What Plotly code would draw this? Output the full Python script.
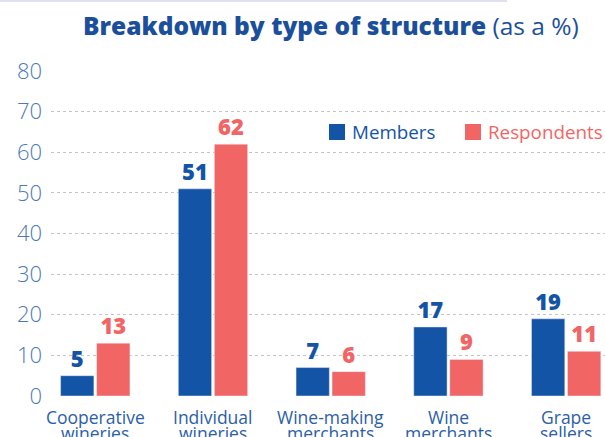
import plotly.graph_objects as go

categories = ["Cooperative<br>wineries", "Individual<br>wineries", "Wine-making<br>merchants",
              "Wine<br>merchants", "Grape<br>sellers"]
members = [5, 51, 7, 17, 19]
respondents = [13, 62, 6, 9, 11]
y_ticks = [0, 10, 20, 30, 40, 50, 60, 70, 80]

BLUE = "#1454a6"
RED = "#f26565"
TICK_BLUE = "#4a7ab8"
LABEL_BLUE = "#2b5ea8"
TITLE_BLUE = "#1b4f9c"
FONT = "Open Sans"

W, H = 605, 437
ML, MR, MT, MB = 51, 0, 71, 41


def px_x(px):
    return (px - ML) / (W - ML - MR)


def px_y(py):
    return (H - MB - py) / (H - MT - MB)


fig = go.Figure()

for name, vals, color in [("Members", members, BLUE), ("Respondents", respondents, RED)]:
    fig.add_trace(go.Bar(
        x=categories, y=vals, name=name, marker_color=color, showlegend=False,
        text=vals, textposition="outside", cliponaxis=False, constraintext="none",
        textfont=dict(family=FONT, size=22, color=color, weight=800),
    ))

# category labels: two tightly spaced lines under each group
annotations = []
for cat in categories:
    for i, line in enumerate(cat.split("<br>")):
        annotations.append(dict(
            x=cat, xref="x", y=0, yref="paper", yanchor="top", yshift=-8 - 16 * i,
            text=line, showarrow=False, borderpad=0,
            font=dict(family=FONT, size=17.5, color=LABEL_BLUE),
        ))

# legend: square swatches with coloured names
shapes = []
for name, color, left in [("Members", BLUE, 329), ("Respondents", RED, 465)]:
    shapes.append(dict(type="rect", xref="paper", yref="paper",
                       x0=px_x(left), x1=px_x(left + 16), y0=px_y(140), y1=px_y(124),
                       fillcolor=color, line=dict(width=0)))
    annotations.append(dict(x=px_x(left + 22), xref="paper", xanchor="left",
                            y=px_y(132), yref="paper", yanchor="middle",
                            text=name, showarrow=False, borderpad=0,
                            font=dict(family=FONT, size=18.8, color=color)))

# thin rule along the top edge
shapes.append(dict(type="line", xref="paper", yref="paper", x0=px_x(0), x1=px_x(507),
                   y0=px_y(1), y1=px_y(1), line=dict(color="#dfe1f0", width=2)))

fig.update_layout(
    width=W, height=H,
    margin=dict(l=ML, r=MR, t=MT, b=MB),
    paper_bgcolor="white", plot_bgcolor="white",
    barmode="group", bargap=0.388, bargroupgap=0.075,
    font=dict(family=FONT),
    showlegend=False,
    title=dict(
        text="<span style='font-weight:800'>Breakdown by type of structure</span> (as a %)",
        x=0.547, xanchor="center", y=0.94, yanchor="middle",
        font=dict(family=FONT, size=24.5, color=TITLE_BLUE),
    ),
    xaxis=dict(
        range=[-0.376, 4.33], showgrid=False, showline=False, zeroline=False,
        automargin=False, showticklabels=False,
    ),
    yaxis=dict(
        range=[0, 80], tickvals=y_ticks, showline=False, zeroline=False,
        automargin=False,
        showgrid=True, gridcolor="#c4c4c4", griddash="dot", gridwidth=1,
        tickfont=dict(family=FONT, size=22, color=TICK_BLUE, weight=300),
        ticklabelstandoff=8,
    ),
    annotations=annotations,
    shapes=shapes,
)

fig.write_html("out.html")
